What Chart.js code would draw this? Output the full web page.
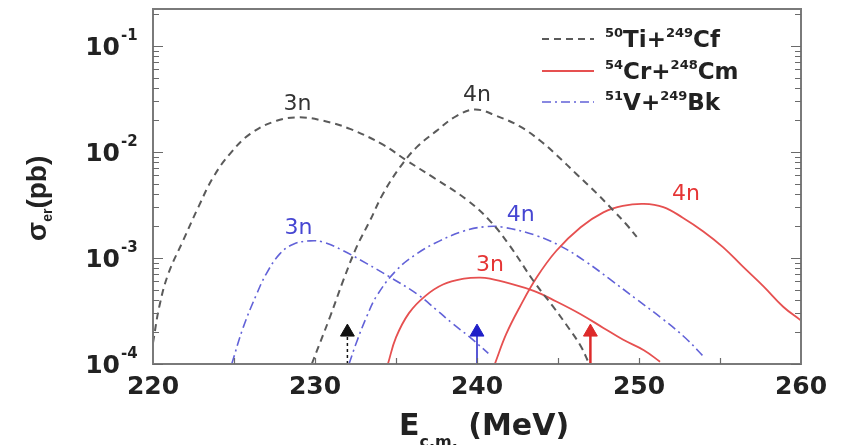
<!DOCTYPE html>
<html>
<head>
<meta charset="utf-8">
<script src="https://cdn.jsdelivr.net/npm/chart.js@4.4.1/dist/chart.umd.min.js"></script>
<style>
  html, body { margin: 0; padding: 0; background: #fff; }
  #wrap { width: 841px; height: 445px; }
</style>
</head>
<body>
<div id="wrap"><canvas id="c" width="841" height="445"></canvas></div>
<script>
// Evaporation-residue cross sections (pb) vs. centre-of-mass energy (MeV)
const xTicks = [220, 230, 240, 250, 260];
const yDecades = [1e-4, 1e-3, 1e-2, 1e-1];
const yDecadeExp = ['-4', '-3', '-2', '-1'];

// 50Ti + 249Cf
const tiCf3nE = [220.0, 220.4, 220.95, 221.87, 222.8, 223.72, 224.75, 226.0, 227.63, 229.07, 230.5, 232.16, 234.2, 235.66, 237.3, 239.36, 240.8, 242.0, 243.5, 244.7, 245.7, 246.4, 246.9];
const tiCf3nSigma = [1.58e-4, 3.55e-4, 7.13e-4, 1.47e-3, 3.02e-3, 5.78e-3, 9.6e-3, 1.48e-2, 1.97e-2, 2.12e-2, 1.97e-2, 1.65e-2, 1.17e-2, 8.3e-3, 5.75e-3, 3.55e-3, 2.24e-3, 1.32e-3, 6.03e-4, 3.47e-4, 2.14e-4, 1.48e-4, 1.02e-4];
const tiCf4nE = [229.8, 230.93, 231.75, 232.57, 233.4, 234.2, 235.25, 236.28, 237.5, 238.75, 239.9, 241.2, 242.65, 243.89, 244.92, 246.15, 247.39, 248.4, 249.2, 249.86];
const tiCf4nSigma = [1.0e-4, 2.79e-4, 6.17e-4, 1.27e-3, 2.26e-3, 4.04e-3, 7.19e-3, 1.11e-2, 1.58e-2, 2.19e-2, 2.51e-2, 2.19e-2, 1.74e-2, 1.28e-2, 9.33e-3, 6.17e-3, 4.07e-3, 2.82e-3, 2.09e-3, 1.58e-3];

// 54Cr + 248Cm
const crCm3nE = [234.5, 235.0, 235.8, 236.8, 237.9, 239.2, 240.2, 240.8, 242.0, 243.5, 244.9, 246.4, 247.8, 249.0, 250.3, 251.3];
const crCm3nSigma = [1.0e-4, 1.78e-4, 3.02e-4, 4.37e-4, 5.62e-4, 6.38e-4, 6.53e-4, 6.38e-4, 5.75e-4, 4.90e-4, 3.89e-4, 2.95e-4, 2.19e-4, 1.70e-4, 1.35e-4, 1.05e-4];
const crCm4nE = [241.1, 241.8, 242.65, 243.7, 244.9, 246.4, 247.8, 249.0, 250.3, 251.5, 252.7, 253.97, 255.2, 256.4, 257.7, 258.9, 260.0];
const crCm4nSigma = [1.0e-4, 1.91e-4, 3.47e-4, 6.61e-4, 1.17e-3, 1.95e-3, 2.69e-3, 3.10e-3, 3.24e-3, 3.02e-3, 2.40e-3, 1.78e-3, 1.26e-3, 8.32e-4, 5.37e-4, 3.47e-4, 2.57e-4];

// 51V + 249Bk
const vBk3nE = [224.86, 225.58, 226.4, 227.0, 227.84, 228.66, 229.69, 230.5, 231.7, 233.2, 234.6, 236.3, 237.5, 238.5, 239.5, 240.7];
const vBk3nSigma = [1.0e-4, 2.24e-4, 4.57e-4, 7.13e-4, 1.10e-3, 1.35e-3, 1.45e-3, 1.41e-3, 1.18e-3, 8.85e-4, 6.64e-4, 4.57e-4, 3.24e-4, 2.40e-4, 1.82e-4, 1.26e-4];
const vBk4nE = [232.1, 232.6, 233.2, 233.8, 235.0, 236.3, 237.7, 239.2, 240.5, 241.6, 243.7, 245.3, 246.77, 248.2, 249.86, 251.5, 252.9, 254.0];
const vBk4nSigma = [1.0e-4, 1.66e-4, 2.82e-4, 4.37e-4, 7.59e-4, 1.10e-3, 1.45e-3, 1.80e-3, 1.97e-3, 1.95e-3, 1.62e-3, 1.26e-3, 9.12e-4, 6.31e-4, 4.07e-4, 2.63e-4, 1.74e-4, 1.17e-4];

// Bass-barrier energies marked by arrows (Ti+Cf, V+Bk, Cr+Cm)
const arrowE = [232, 240, 247];
const arrowBase = 1e-4;
const arrowHead = 2.0e-4;

// Channel labels placed in data coordinates
const curveLabels = [
  { text: '3n', x: 228.92, y: 2.83e-2, color: '#333333' },
  { text: '4n', x: 240.0, y: 3.39e-2, color: '#333333' },
  { text: '3n', x: 228.98, y: 1.92e-3, color: '#4646d2' },
  { text: '4n', x: 242.7, y: 2.55e-3, color: '#4646d2' },
  { text: '3n', x: 240.8, y: 8.45e-4, color: '#e53535' },
  { text: '4n', x: 252.9, y: 3.98e-3, color: '#e53535' }
];

const BLACK_LINE = '#5a5a5a';
const RED_LINE = '#e65050';
const BLUE_LINE = '#6262d8';
const DASH = [7, 5];
const DASH_DOT = [9, 4, 2, 4];
const DV = '"DejaVu Sans", sans-serif';
const LS = '"Liberation Sans", Arial, sans-serif';

function pts(xs, ys) { return xs.map((x, i) => ({ x: x, y: ys[i] })); }

function curve(xs, ys, color, dash, width) {
  return {
    data: pts(xs, ys), showLine: true, borderColor: color, borderWidth: width,
    borderDash: dash, pointRadius: 0, fill: false, tension: 0.4
  };
}

function arrow(x, color, dash, width) {
  return {
    data: [{ x: x, y: arrowBase }, { x: x, y: arrowHead }], showLine: true,
    borderColor: color, borderWidth: width, borderDash: dash, tension: 0,
    pointRadius: [0, 8], pointStyle: 'triangle', pointBackgroundColor: color,
    pointBorderColor: color, pointBorderWidth: 1, fill: false, clip: false
  };
}

function richText(ctx, x, y, runs, align) {
  let w = 0;
  runs.forEach(r => { ctx.font = r.font; r.w = ctx.measureText(r.t).width; w += r.w; });
  let cx = align === 'right' ? x - w : (align === 'center' ? x - w / 2 : x);
  runs.forEach(r => { ctx.font = r.font; ctx.fillText(r.t, cx, y + (r.dy || 0)); cx += r.w; });
}

const decorations = {
  id: 'decorations',
  afterDatasetsDraw(chart) {
    const ctx = chart.ctx, a = chart.chartArea;
    const xs = chart.scales.x, ys = chart.scales.y;
    ctx.save();
    ctx.textAlign = 'left';
    ctx.textBaseline = 'alphabetic';

    // frame
    ctx.strokeStyle = '#7a7a7a';
    ctx.lineWidth = 2;
    ctx.setLineDash([]);
    ctx.strokeRect(a.left, a.top, a.right - a.left, a.bottom - a.top);

    // inward ticks on the log axis (left and right)
    ctx.lineWidth = 1.2;
    ctx.strokeStyle = '#6a6a6a';
    for (let e = -4; e <= -1; e++) {
      for (let m = 1; m <= 9; m++) {
        const v = m * Math.pow(10, e);
        if (v < ys.min || v > ys.max) continue;
        const py = Math.round(ys.getPixelForValue(v)) + 0.5;
        const len = m === 1 ? 10 : 6;
        ctx.beginPath();
        ctx.moveTo(a.left, py); ctx.lineTo(a.left + len, py);
        ctx.moveTo(a.right, py); ctx.lineTo(a.right - len, py);
        ctx.stroke();
      }
    }
    // inward ticks on the energy axis
    for (let e = 225; e < 260; e += 5) {
      const px = Math.round(xs.getPixelForValue(e)) + 0.5;
      ctx.beginPath();
      ctx.moveTo(px, a.bottom); ctx.lineTo(px, a.bottom - 6);
      ctx.stroke();
    }

    // decade labels
    ctx.fillStyle = '#222';
    yDecades.forEach((v, i) => {
      const py = ys.getPixelForValue(v);
      ctx.font = 'bold 25px ' + DV;
      ctx.textAlign = 'right';
      ctx.fillText('10', 120, py + 9);
      ctx.textAlign = 'left';
      ctx.font = 'bold 15px ' + DV;
      ctx.fillText(yDecadeExp[i], 121, py - 6);
    });

    // axis titles
    ctx.fillStyle = '#222';
    richText(ctx, 399, 435, [
      { t: 'E', font: 'bold 30px ' + DV },
      { t: 'c.m.', font: 'bold 16px ' + DV, dy: 12 },
      { t: ' (MeV)', font: 'bold 30px ' + DV }
    ]);
    ctx.save();
    ctx.translate(46, 241);
    ctx.rotate(-Math.PI / 2);
    richText(ctx, 0, 0, [
      { t: 'σ', font: 'bold 28px ' + LS },
      { t: 'er', font: 'bold 14px ' + LS, dy: 6 },
      { t: '(pb)', font: 'bold 28px ' + LS }
    ]);
    ctx.restore();

    // legend
    const rows = [
      { color: BLACK_LINE, dash: DASH, w: 2, parts: ['50', 'Ti+', '249', 'Cf'] },
      { color: RED_LINE, dash: [], w: 2, parts: ['54', 'Cr+', '248', 'Cm'] },
      { color: BLUE_LINE, dash: DASH_DOT, w: 1.6, parts: ['51', 'V+', '249', 'Bk'] }
    ];
    const baselines = [47, 79, 110];
    rows.forEach((r, i) => {
      const b = baselines[i];
      ctx.strokeStyle = r.color;
      ctx.lineWidth = r.w;
      ctx.setLineDash(r.dash);
      ctx.beginPath();
      ctx.moveTo(542, b - 8); ctx.lineTo(594, b - 8);
      ctx.stroke();
      ctx.setLineDash([]);
      ctx.fillStyle = '#222';
      richText(ctx, 605, b, [
        { t: r.parts[0], font: 'bold 13px ' + DV, dy: -10 },
        { t: r.parts[1], font: 'bold 23px ' + DV },
        { t: r.parts[2], font: 'bold 13px ' + DV, dy: -10 },
        { t: r.parts[3], font: 'bold 23px ' + DV }
      ]);
    });

    // channel labels
    ctx.font = '22px ' + DV;
    ctx.textAlign = 'center';
    ctx.textBaseline = 'middle';
    curveLabels.forEach(l => {
      ctx.fillStyle = l.color;
      ctx.fillText(l.text, xs.getPixelForValue(l.x), ys.getPixelForValue(l.y));
    });
    ctx.restore();
  }
};

new Chart(document.getElementById('c'), {
  type: 'scatter',
  data: {
    datasets: [
      arrow(arrowE[0], '#111111', [3, 3], 1.5),
      arrow(arrowE[1], '#2020c8', [], 1.5),
      arrow(arrowE[2], '#dd2a2a', [], 2.5),
      curve(tiCf3nE, tiCf3nSigma, BLACK_LINE, DASH, 2),
      curve(tiCf4nE, tiCf4nSigma, BLACK_LINE, DASH, 2),
      curve(crCm3nE, crCm3nSigma, RED_LINE, [], 1.8),
      curve(crCm4nE, crCm4nSigma, RED_LINE, [], 1.8),
      curve(vBk3nE, vBk3nSigma, BLUE_LINE, DASH_DOT, 1.6),
      curve(vBk4nE, vBk4nSigma, BLUE_LINE, DASH_DOT, 1.6)
    ]
  },
  options: {
    responsive: false,
    devicePixelRatio: 1,
    animation: false,
    events: [],
    layout: { padding: { left: 153, right: 40, top: 8, bottom: 0 } },
    plugins: { legend: { display: false }, tooltip: { enabled: false }, title: { display: false } },
    scales: {
      x: {
        type: 'linear', min: 220, max: 260,
        afterBuildTicks(s) { s.ticks = xTicks.map(v => ({ value: v })); },
        afterFit(s) { s.height = 81; },
        ticks: { font: { family: 'DejaVu Sans', weight: 'bold', size: 25 }, color: '#222', padding: 8, maxRotation: 0 },
        grid: { display: false, drawTicks: false },
        border: { display: false }
      },
      y: {
        type: 'logarithmic', min: 1e-4, max: 0.223,
        display: false
      }
    }
  },
  plugins: [decorations]
});
</script>
</body>
</html>
